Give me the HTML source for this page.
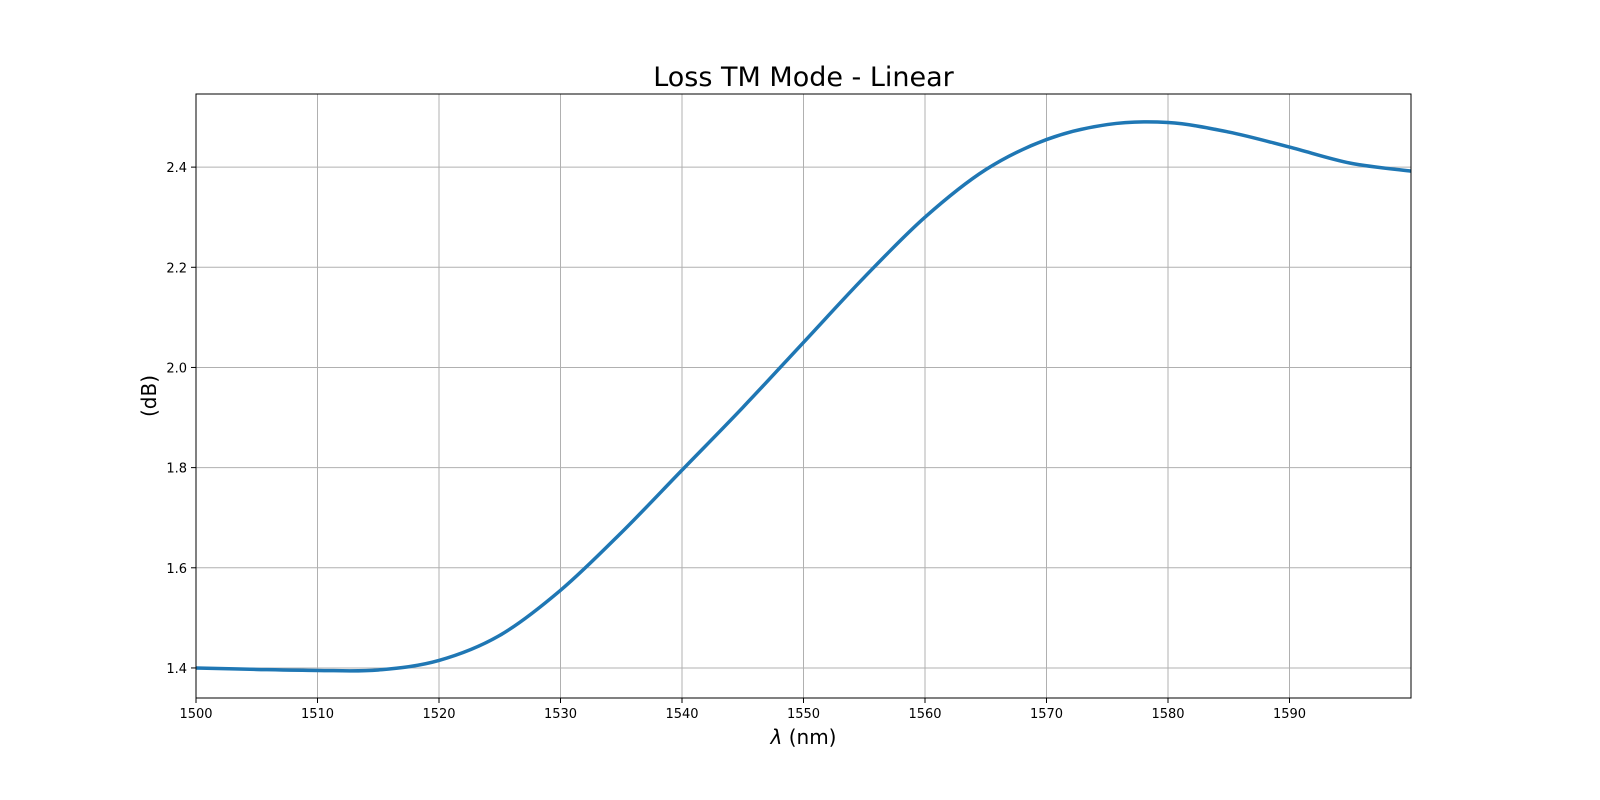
<!DOCTYPE html>
<html><head><meta charset="utf-8"><style>
body{margin:0;background:#fff}
svg{display:block;font-family:"DejaVu Sans","Liberation Sans",sans-serif}
</style></head><body>
<svg id="chart" width="1600" height="800" viewBox="0 0 1600 800">
<rect width="1600" height="800" fill="#fff"/>
<text x="803.5" y="86" font-size="27" text-anchor="middle">Loss TM Mode - Linear</text>
<g id="grid"></g>
<g id="ticks"></g>
<path id="series" fill="none" stroke="#1f77b4" stroke-width="3.5" stroke-linejoin="round"/>
<rect x="196" y="94" width="1215" height="604" fill="none" stroke="#000" stroke-width="1"/>
<text x="803.5" y="744" font-size="20" text-anchor="middle"><tspan font-style="italic">λ</tspan> (nm)</text>
<text x="156" y="396" font-size="20" text-anchor="middle" transform="rotate(-90 156 396)">(dB)</text>
</svg>
<script>
const xTicks=[1500,1510,1520,1530,1540,1550,1560,1570,1580,1590];
const yTicks=[1.4,1.6,1.8,2.0,2.2,2.4];
const wavelengths=[1500,1505,1510,1515,1520,1525,1530,1535,1540,1545,1550,1555,1560,1565,1570,1575,1580,1585,1590,1595,1600];
const lossValues=[1.40,1.397,1.395,1.396,1.415,1.465,1.555,1.67,1.795,1.92,2.05,2.18,2.30,2.395,2.455,2.485,2.489,2.47,2.44,2.408,2.392];
const L=196,R=1411,T=94,B=698,xMin=1500,xMax=1600,yMin=1.34,yMax=2.546;
const sx=v=>L+(v-xMin)/(xMax-xMin)*(R-L);
const sy=v=>B-(v-yMin)/(yMax-yMin)*(B-T);
const NS="http://www.w3.org/2000/svg";
const grid=document.getElementById('grid'),ticks=document.getElementById('ticks');
function mk(tag,attrs,parent){const e=document.createElementNS(NS,tag);for(const k in attrs)e.setAttribute(k,attrs[k]);parent.appendChild(e);return e;}
xTicks.forEach(v=>{
  const x=sx(v);
  const g=mk('line',{x1:x,x2:x,y1:T,y2:B,stroke:'#b0b0b0','stroke-width':1},grid);
  
  
  const t=mk('line',{x1:x,x2:x,y1:B,y2:B+5,stroke:'#000'},ticks);
  
  
  const l=mk('text',{x:x,y:B+20,'font-size':13,'text-anchor':'middle'},ticks);
  l.textContent=v;
  
  
});
yTicks.forEach(v=>{
  const y=sy(v);
  const g=mk('line',{x1:L,x2:R,y1:y,y2:y,stroke:'#b0b0b0','stroke-width':1},grid);
  
  
  const t=mk('line',{x1:L-5,x2:L,y1:y,y2:y,stroke:'#000'},ticks);
  
  
  const l=mk('text',{x:L-9,y:y+5,'font-size':13,'text-anchor':'end'},ticks);
  l.textContent=v.toFixed(1);
  
  
});
const pts=wavelengths.map((w,i)=>[sx(w),sy(lossValues[i])]);
let d='M'+pts[0][0]+','+pts[0][1];
for(let i=0;i<pts.length-1;i++){
  const p0=pts[Math.max(0,i-1)],p1=pts[i],p2=pts[i+1],p3=pts[Math.min(pts.length-1,i+2)];
  const c1=[p1[0]+(p2[0]-p0[0])/6,p1[1]+(p2[1]-p0[1])/6];
  const c2=[p2[0]-(p3[0]-p1[0])/6,p2[1]-(p3[1]-p1[1])/6];
  d+=` C${c1[0]},${c1[1]} ${c2[0]},${c2[1]} ${p2[0]},${p2[1]}`;
}
document.getElementById('series').setAttribute('d',d);
</script>
</body></html>
